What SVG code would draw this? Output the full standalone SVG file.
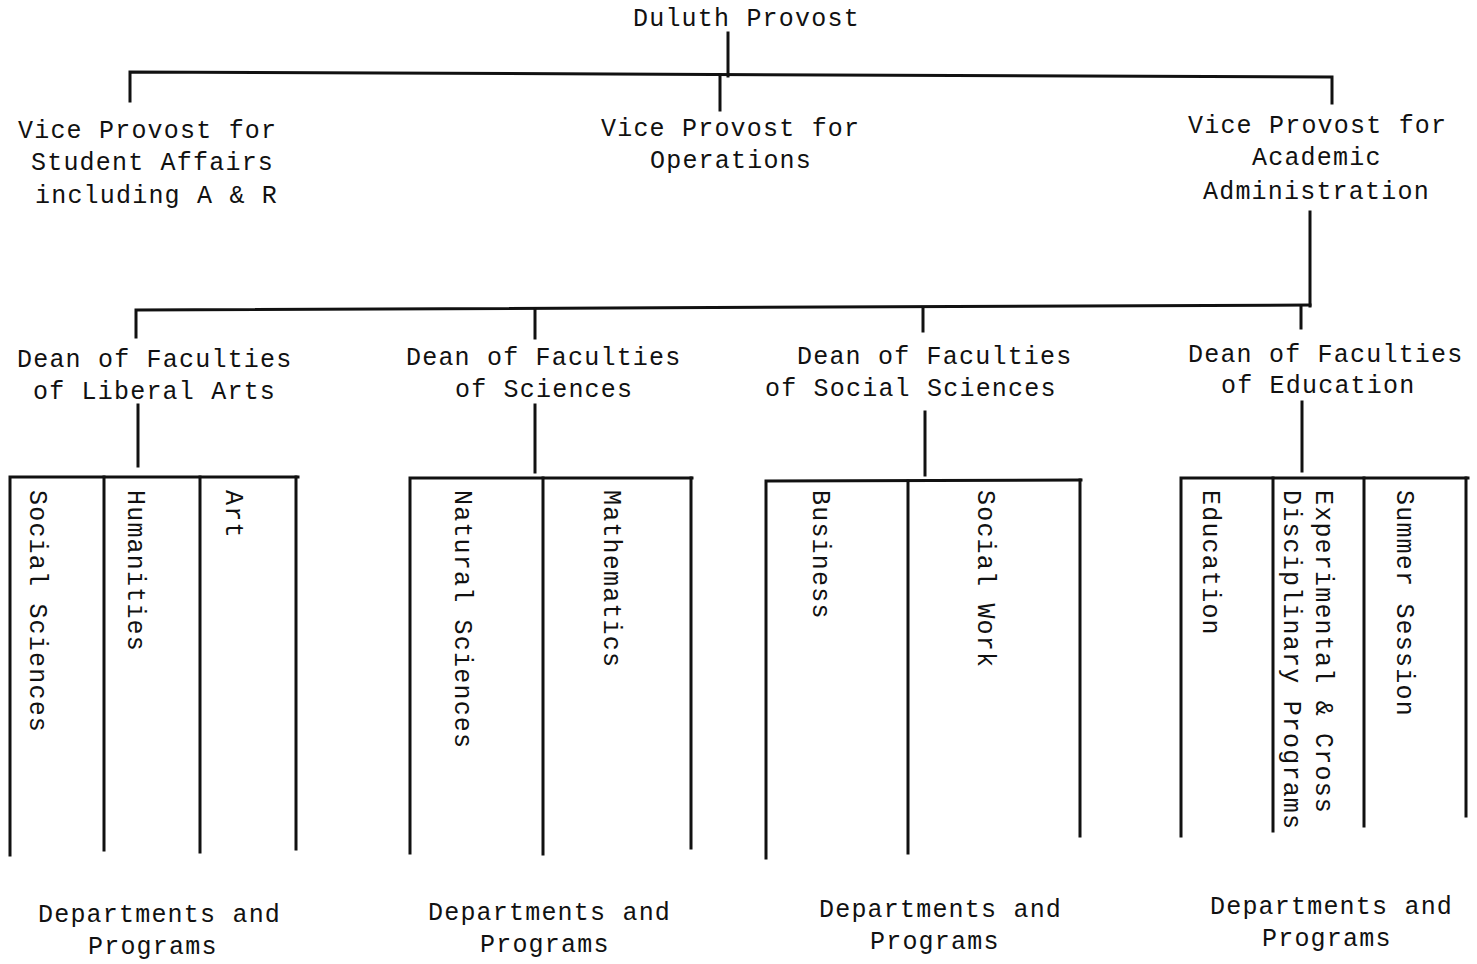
<svg xmlns="http://www.w3.org/2000/svg" width="1477" height="964" viewBox="0 0 1477 964">
<style>
text{font-family:"Liberation Mono","DejaVu Sans Mono",monospace;font-size:25px;letter-spacing:1.2px;fill:#111}
.c line,.c polyline{stroke:#111;stroke-width:3;fill:none;stroke-linecap:square}
</style>
<rect width="1477" height="964" fill="#fff"/>
<g class="c" id="connectors">
<line x1="728" y1="33" x2="728" y2="76"/>
<polyline points="130,101 130,72 1332,77 1332,103"/>
<line x1="720" y1="75" x2="720" y2="110"/>
<line x1="1310" y1="212" x2="1310" y2="306"/>
<polyline points="136,337 136,310 1310,305"/>
<line x1="535" y1="309" x2="535" y2="338"/>
<line x1="923" y1="308" x2="923" y2="331"/>
<line x1="1301" y1="306" x2="1301" y2="328"/>
<line x1="138" y1="405" x2="138" y2="466"/>
<line x1="535" y1="405" x2="535" y2="472"/>
<line x1="925" y1="412" x2="925" y2="475"/>
<line x1="1302" y1="402" x2="1302" y2="471"/>
<polyline points="10,855 10,477 298,477"/>
<line x1="104" y1="477" x2="104" y2="850"/>
<line x1="200" y1="477" x2="200" y2="852"/>
<line x1="296" y1="477" x2="296" y2="849"/>
<polyline points="410,853 410,478 692,478"/>
<line x1="543" y1="478" x2="543" y2="854"/>
<line x1="691" y1="478" x2="691" y2="848"/>
<polyline points="766,858 766,481 1081,480"/>
<line x1="908" y1="481" x2="908" y2="853"/>
<line x1="1080" y1="480" x2="1080" y2="836"/>
<polyline points="1181,836 1181,478 1468,478"/>
<line x1="1273" y1="478" x2="1273" y2="831"/>
<line x1="1364" y1="478" x2="1364" y2="826"/>
<line x1="1466" y1="478" x2="1466" y2="816"/>
</g>
<g id="provost"><text x="633" y="26">Duluth Provost</text></g>
<g id="vp-student"><text x="18" y="138">Vice Provost for</text><text x="31" y="170">Student Affairs</text><text x="35" y="203">including A &amp; R</text></g>
<g id="vp-operations"><text x="601" y="136">Vice Provost for</text><text x="650" y="168">Operations</text></g>
<g id="vp-academic"><text x="1188" y="133">Vice Provost for</text><text x="1252" y="165">Academic</text><text x="1203" y="199">Administration</text></g>
<g id="dean-liberal-arts"><text x="17" y="367">Dean of Faculties</text><text x="33" y="399">of Liberal Arts</text></g>
<g id="dean-sciences"><text x="406" y="365">Dean of Faculties</text><text x="455" y="397">of Sciences</text></g>
<g id="dean-social-sciences"><text x="797" y="364">Dean of Faculties</text><text x="765" y="396">of Social Sciences</text></g>
<g id="dean-education"><text x="1188" y="362">Dean of Faculties</text><text x="1221" y="393">of Education</text></g>
<g id="unit-social-sciences"><text transform="translate(30,490) rotate(90)">Social Sciences</text></g>
<g id="unit-humanities"><text transform="translate(128,490) rotate(90)">Humanities</text></g>
<g id="unit-art"><text transform="translate(226,490) rotate(90)">Art</text></g>
<g id="unit-natural-sciences"><text transform="translate(455,490) rotate(90)">Natural Sciences</text></g>
<g id="unit-mathematics"><text transform="translate(604,490) rotate(90)">Mathematics</text></g>
<g id="unit-business"><text transform="translate(813,490) rotate(90)">Business</text></g>
<g id="unit-social-work"><text transform="translate(978,490) rotate(90)">Social Work</text></g>
<g id="unit-education"><text transform="translate(1203,490) rotate(90)">Education</text></g>
<g id="unit-experimental"><text transform="translate(1316,490) rotate(90)">Experimental &amp; Cross</text><text transform="translate(1284,490) rotate(90)">Disciplinary Programs</text></g>
<g id="unit-summer"><text transform="translate(1397,490) rotate(90)">Summer Session</text></g>
<g id="dept-1"><text x="38" y="922">Departments and</text><text x="88" y="954">Programs</text></g>
<g id="dept-2"><text x="428" y="920">Departments and</text><text x="480" y="952">Programs</text></g>
<g id="dept-3"><text x="819" y="917">Departments and</text><text x="870" y="949">Programs</text></g>
<g id="dept-4"><text x="1210" y="914">Departments and</text><text x="1262" y="946">Programs</text></g>
</svg>
